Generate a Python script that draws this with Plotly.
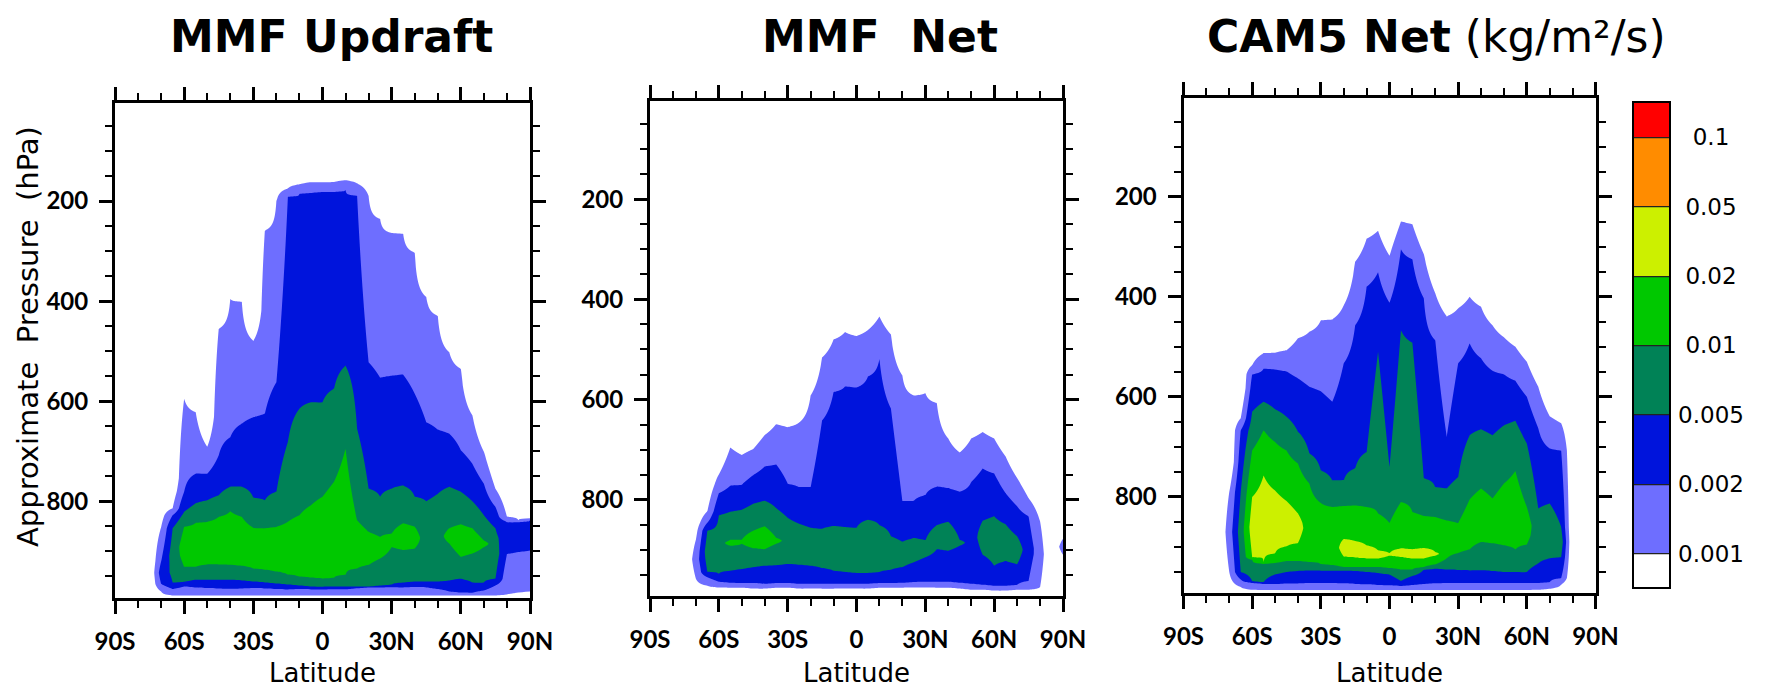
import numpy as np
import plotly.graph_objects as go

W, H = 1780, 691
_ = None

# ---------------- data ----------------
LAT = [-90, -85, -80, -75, -70, -65, -60, -55, -50, -45, -40, -35, -30, -25, -20, -15, -10, -5, 0,
       5, 10, 15, 20, 25, 30, 35, 40, 45, 50, 55, 60, 65, 70, 75, 80, 85, 90]
LAT_TICKS = [-90, -60, -30, 0, 30, 60, 90]
LAT_LABELS = ["90S", "60S", "30S", "0", "30N", "60N", "90N"]
P_TICKS = [200, 400, 600, 800]
P_LABELS = ["200", "400", "600", "800"]
LEVEL_LABELS = ["0.001", "0.002", "0.005", "0.01", "0.02", "0.05", "0.1"]
LEVEL_COLORS = ["#FFFFFF", "#6E6EFF", "#0014DC", "#008256", "#00C800", "#CCF000", "#FF8C00", "#FF0000"]
TITLES = ["<b>MMF Updraft</b>", "<b>MMF\u00a0 Net</b>", "<b>CAM5 Net</b> (kg/m\u00b2/s)"]

# pressure (hPa) of the top / bottom of each shaded class, per latitude (LAT order)
# ---- MMF Updraft ----
UPD_001_TOP = [_, _, _, _, 852, 814, 595, 622, 691, 455, 396, 402, 479, 259, 200, 175, 167, 163, 163,
               162, 159, 165, 190, 236, 264, 266, 303, 392, 429, 502, 535, 628, 701, 775, 831, 838, 834]
UPD_001_BOT = [_, _, _, _, 980, 988, 988, 988, 988, 988, 988, 988, 988, 988, 988, 988, 988, 988, 988,
               988, 988, 988, 988, 988, 988, 988, 988, 988, 988, 988, 988, 988, 988, 988, 986, 982, 980]
UPD_002_TOP = [_, _, _, _, 920, 828, 781, 745, 745, 708, 672, 645, 632, 625, 562, 191, 185, 183, 182,
               181, 178, 189, 522, 553, 549, 547, 585, 642, 657, 665, 698, 725, 765, 811, 841, 841, 838]
UPD_002_BOT = [_, _, _, _, 965, 975, 970, 972, 973, 974, 975, 974, 973, 974, 975, 976, 975, 976, 976,
               975, 975, 973, 972, 972, 971, 972, 971, 972, 975, 980, 983, 983, 978, 968, 905, 901, 898]
UPD_005_TOP = [_, _, _, _, _, 854, 821, 804, 798, 788, 771, 771, 793, 798, 781, 681, 615, 602, 602,
               575, 529, 655, 775, 791, 775, 769, 791, 800, 785, 771, 781, 800, 828, 854, _, _, _]
UPD_005_BOT = [_, _, _, _, _, 962, 961, 957, 957, 957, 957, 958, 960, 962, 964, 966, 968, 970, 971,
               971, 971, 970, 970, 969, 966, 963, 961, 961, 961, 958, 955, 962, 962, 955, _, _, _]
UPD_01_TOP = [_, _, _, _, _, _, 851, 843, 841, 831, 820, 831, 853, 854, 851, 841, 828, 808, 791,
              761, 695, 838, 861, 871, 864, 844, 851, _, _, 854, 846, 854, 878, _, _, _, _]
UPD_01_BOT = [_, _, _, _, _, _, 931, 931, 926, 926, 927, 929, 934, 937, 941, 947, 951, 953, 954,
              953, 947, 934, 927, 914, 891, 897, 894, _, _, 884, 911, 904, 891, _, _, _, _]

# ---- MMF Net ----
NET_001_TOP = [_, _, _, _, 880, 823, 750, 696, 711, 699, 671, 649, 655, 646, 592, 516, 480, 465, 473,
               461, 434, 470, 552, 592, 587, 607, 678, 706, 678, 665, 678, 714, 757, 797, 843, _, 878]
NET_001_BOT = [_, _, _, _, 958, 972, 975, 976, 976, 977, 977, 976, 976, 977, 977, 978, 978, 977, 977,
               977, 976, 976, 976, 975, 975, 976, 976, 977, 980, 980, 981, 981, 980, 980, 975, _, 910]
NET_002_TOP = [_, _, _, _, _, 846, 787, 772, 770, 751, 734, 730, 768, 775, 775, 642, 585, 574, 576,
               554, 519, 618, 803, 802, 791, 774, 777, 784, 765, 738, 748, 787, 813, 833, _, _, _]
NET_002_BOT = [_, _, _, _, _, 955, 964, 966, 967, 967, 968, 967, 967, 968, 968, 968, 968, 968, 968,
               968, 967, 967, 966, 965, 964, 964, 964, 966, 968, 970, 972, 972, 970, 962, _, _, _]
NET_005_TOP = [_, _, _, _, _, 862, 831, 824, 820, 808, 802, 817, 836, 848, 856, 858, 853, 855, 856,
               840, 851, 873, 884, 877, 881, 851, 844, 880, _, 842, 833, 849, 873, _, _, _, _]
NET_005_BOT = [_, _, _, _, _, 945, 948, 942, 939, 935, 932, 931, 929, 930, 932, 937, 942, 945, 947,
               947, 945, 940, 935, 925, 915, 899, 902, 892, _, 910, 932, 923, 929, _, _, _, _]
NET_01_TOP = [_, _, _, _, _, _, _, 881, 880, 862, 853, 876, _, _, _, _, _, _, _,
              _, _, _, _, _, _, _, _, _, _, _, _, _, _, _, _, _, _]
NET_01_BOT = [_, _, _, _, _, _, _, 892, 888, 897, 899, 888, _, _, _, _, _, _, _,
              _, _, _, _, _, _, _, _, _, _, _, _, _, _, _, _, _, _]

# ---- CAM5 Net ----
CAM_001_TOP = [_, _, _, _, 790, 643, 537, 513, 512, 507, 483, 470, 447, 445, 417, 330, 284, 268, 318,
               250, 255, 315, 393, 439, 423, 400, 420, 457, 481, 500, 530, 580, 639, 653, _, _, _]
CAM_001_BOT = [_, _, _, _, 950, 980, 985, 986, 986, 986, 986, 986, 986, 986, 986, 986, 986, 986, 986,
               986, 986, 986, 986, 986, 986, 986, 986, 986, 986, 986, 986, 985, 983, 975, _, _, _]
CAM_002_TOP = [_, _, _, _, _, 667, 555, 544, 545, 549, 563, 580, 589, 610, 533, 457, 380, 351, 412,
               305, 325, 403, 487, 680, 533, 493, 523, 548, 555, 568, 600, 663, 703, 707, _, _, _]
CAM_002_BOT = [_, _, _, _, _, 965, 972, 974, 974, 973, 973, 972, 972, 972, 973, 974, 975, 976, 977,
               978, 976, 974, 973, 972, 972, 972, 972, 972, 972, 972, 972, 972, 970, 962, _, _, _]
CAM_005_TOP = [_, _, _, _, _, 790, 630, 610, 625, 640, 670, 713, 747, 767, 767, 743, 710, 510, 740,
               467, 492, 763, 781, 783, 760, 677, 665, 677, 657, 648, 693, 823, 813, 860, _, _, _]
CAM_005_BOT = [_, _, _, _, _, 950, 968, 970, 955, 950, 948, 947, 947, 947, 947, 948, 950, 952, 955,
               968, 958, 945, 943, 945, 946, 947, 947, 948, 950, 950, 950, 933, 923, 920, _, _, _]
CAM_01_TOP = [_, _, _, _, _, _, 707, 667, 690, 707, 733, 773, 812, 820, 818, 817, 820, 833, 852,
              810, 830, 838, 840, 847, 852, 805, 783, 803, 773, 748, 820, _, _, _, _, _, _]
CAM_01_BOT = [_, _, _, _, _, _, 926, 933, 932, 928, 928, 930, 935, 937, 940, 940, 940, 940, 942,
              945, 945, 940, 935, 923, 912, 905, 890, 893, 897, 905, 895, _, _, _, _, _, _]
CAM_02_TOP = [_, _, _, _, _, _, 800, 757, 787, 808, 833, _, _, _, 884, 888, 897, 907, 913,
              903, 905, 902, 910, _, _, _, _, _, _, _, _, _, _, _, _, _, _]
CAM_02_BOT = [_, _, _, _, _, _, 920, 930, 913, 899, 892, _, _, _, 919, 921, 923, 923, 917,
              920, 923, 923, 917, _, _, _, _, _, _, _, _, _, _, _, _, _, _]

PANELS = [
    [(UPD_001_TOP, UPD_001_BOT), (UPD_002_TOP, UPD_002_BOT), (UPD_005_TOP, UPD_005_BOT), (UPD_01_TOP, UPD_01_BOT)],
    [(NET_001_TOP, NET_001_BOT), (NET_002_TOP, NET_002_BOT), (NET_005_TOP, NET_005_BOT), (NET_01_TOP, NET_01_BOT)],
    [(CAM_001_TOP, CAM_001_BOT), (CAM_002_TOP, CAM_002_BOT), (CAM_005_TOP, CAM_005_BOT), (CAM_01_TOP, CAM_01_BOT),
     (CAM_02_TOP, CAM_02_BOT)],
]

# ---------------- grid construction ----------------
P_GRID = np.arange(0.0, 1000.5, 2.0)
OUTSIDE = -0.5     # class-index value far outside any shaded class
FADE = 60.0        # hPa over which the field fades outside the outermost class


def column_profile(entries):
    """Piecewise-linear class-index profile whose k-0.5 crossings sit at the read boundaries."""
    present = [(k, t, b) for k, t, b in entries if t is not None]
    if not present:
        return np.full(P_GRID.size, OUTSIDE)
    pts = []
    for k, t, b in present:
        pts.append((float(t), k - 0.5))
        pts.append((float(b), k - 0.5))
    kmax, tm, bm = max(present)
    pts.append(((tm + bm) / 2.0, float(kmax)))
    t1 = min(t for _, t, _ in present)
    b1 = max(b for _, _, b in present)
    pts.append((t1 - FADE, OUTSIDE))
    pts.append((b1 + FADE, OUTSIDE))
    pts.sort()
    ps = np.array([p for p, _ in pts])
    vs = np.array([v for _, v in pts])
    for i in range(1, len(ps)):
        if ps[i] <= ps[i - 1]:
            ps[i] = ps[i - 1] + 0.01
    return np.interp(P_GRID, ps, vs, left=OUTSIDE, right=OUTSIDE)


def build_z(levels):
    z = np.zeros((P_GRID.size, len(LAT)))
    for j in range(len(LAT)):
        entries = [(k, tops[j], bots[j]) for k, (tops, bots) in enumerate(levels, start=1)]
        z[:, j] = column_profile(entries)
    return z


NC = len(LEVEL_COLORS) - 1
CSCALE = [[i / NC, c] for i, c in enumerate(LEVEL_COLORS)]
CONTOURS = dict(start=0.5, end=len(LEVEL_LABELS) - 0.5, size=1, coloring="fill", showlines=False)

# the page shows the figure 8 px in from its top-left corner; positions below are page pixels
PAGE_OFF = 8


def px_x(p):
    return (p - PAGE_OFF) / W


def px_y(p):
    return 1 - (p - PAGE_OFF) / H


# plot frames (page pixels): left, right, top, bottom
FRAMES = [(115, 530, 102.7, 597.7), (650, 1063, 101.0, 596.0), (1183.5, 1595.5, 98.3, 593.3)]

fig = go.Figure()
for i, levels in enumerate(PANELS):
    n = "" if i == 0 else str(i + 1)
    fig.add_trace(go.Contour(
        x=LAT, y=P_GRID, z=build_z(levels),
        colorscale=CSCALE, autocontour=False, contours=CONTOURS,
        line=dict(width=0, smoothing=0.5), showscale=False, hoverinfo="skip",
        xaxis="x" + n, yaxis="y" + n,
    ))

# centre the key labels: pad shorter labels with figure / punctuation spaces
KEY_TEXT = []
for t in LEVEL_LABELS:
    if len(t) == 3:
        KEY_TEXT.append("\u2007" + t)
    elif len(t) == 4:
        KEY_TEXT.append("\u2008" + t)
    else:
        KEY_TEXT.append(t)

# colour key (uniform field on a hidden axis, used only for its colour bar)
fig.add_trace(go.Contour(
    x=[0, 1], y=[0, 1], z=[[0, 0], [0, 0]],
    colorscale=CSCALE, autocontour=False,
    contours=dict(start=0.5, end=len(LEVEL_LABELS) - 0.5, size=1, coloring="fill", showlines=True),
    line=dict(width=1.3, color="#222222"), hoverinfo="skip",
    xaxis="x4", yaxis="y4", showscale=True,
    colorbar=dict(
        x=px_x(1633.3), xanchor="left", y=px_y(588.3), yanchor="bottom",
        len=(588.3 - 102.7) / H, lenmode="fraction", thickness=37, thicknessmode="pixels",
        xpad=0, ypad=0, outlinewidth=2, outlinecolor="black",
        tickmode="array", tickvals=[k + 0.5 for k in range(len(LEVEL_LABELS))],
        ticktext=KEY_TEXT, ticks="outside", ticklen=3, tickcolor="rgba(0,0,0,0)",
        tickfont=dict(family="DejaVu Sans", size=23, color="black"),
    ),
))

TICKFONT = dict(family="Lato, DejaVu Sans, sans-serif", size=24, color="black", weight="bold")
common = dict(showline=True, linecolor="black", linewidth=3, mirror="ticks",
              ticks="outside", ticklen=13, tickwidth=3, tickcolor="black",
              showgrid=False, zeroline=False, tickfont=TICKFONT, automargin=False)

layout = dict(width=W, height=H, margin=dict(l=0, r=0, t=0, b=0, pad=0, autoexpand=False),
              paper_bgcolor="white", plot_bgcolor="white", showlegend=False)
for i, (l, r, t, b) in enumerate(FRAMES):
    n = "" if i == 0 else str(i + 1)
    layout["xaxis" + n] = dict(
        common, domain=[px_x(l), px_x(r)], range=[-90, 90], anchor="y" + n,
        tickmode="array", tickvals=LAT_TICKS, ticktext=LAT_LABELS, ticklabelstandoff=7,
        minor=dict(tickmode="linear", tick0=-90, dtick=10, ticks="outside", ticklen=7,
                   tickwidth=2, tickcolor="black", showgrid=False),
    )
    layout["yaxis" + n] = dict(
        common, domain=[px_y(b), px_y(t)], range=[992.5, 3.6], anchor="x" + n,
        tickmode="array", tickvals=P_TICKS, ticktext=P_LABELS, ticklabelstandoff=6,
        minor=dict(tickmode="linear", tick0=0, dtick=50, ticks="outside", ticklen=7,
                   tickwidth=2, tickcolor="black", showgrid=False),
    )
layout["xaxis4"] = dict(domain=[0.0, 0.01], visible=False, anchor="y4", automargin=False)
layout["yaxis4"] = dict(domain=[0.97, 0.99], visible=False, anchor="x4", automargin=False)

ann = []
TITLE_X = [331, 880, 1436]
for i, txt in enumerate(TITLES):
    ann.append(dict(text=txt, x=px_x(TITLE_X[i]), y=px_y(8.5), yanchor="top",
                    xref="paper", yref="paper", xanchor="center", showarrow=False,
                    font=dict(family="DejaVu Sans, sans-serif", size=44, color="black")))
for (l, r, t, b) in FRAMES:
    ann.append(dict(text="Latitude", x=px_x((l + r) / 2), y=px_y(690), xref="paper", yref="paper",
                    xanchor="center", yanchor="bottom", showarrow=False,
                    font=dict(family="DejaVu Sans, sans-serif", size=26, color="black")))
ann.append(dict(text="Approximate\u00a0 Pressure\u00a0 (hPa)", x=px_x(28), y=px_y(337),
                xref="paper", yref="paper", xanchor="center", yanchor="middle", textangle=-90,
                showarrow=False, font=dict(family="DejaVu Sans, sans-serif", size=29, color="black")))
layout["annotations"] = ann

fig.update_layout(**layout)
fig.write_html("out.html")
